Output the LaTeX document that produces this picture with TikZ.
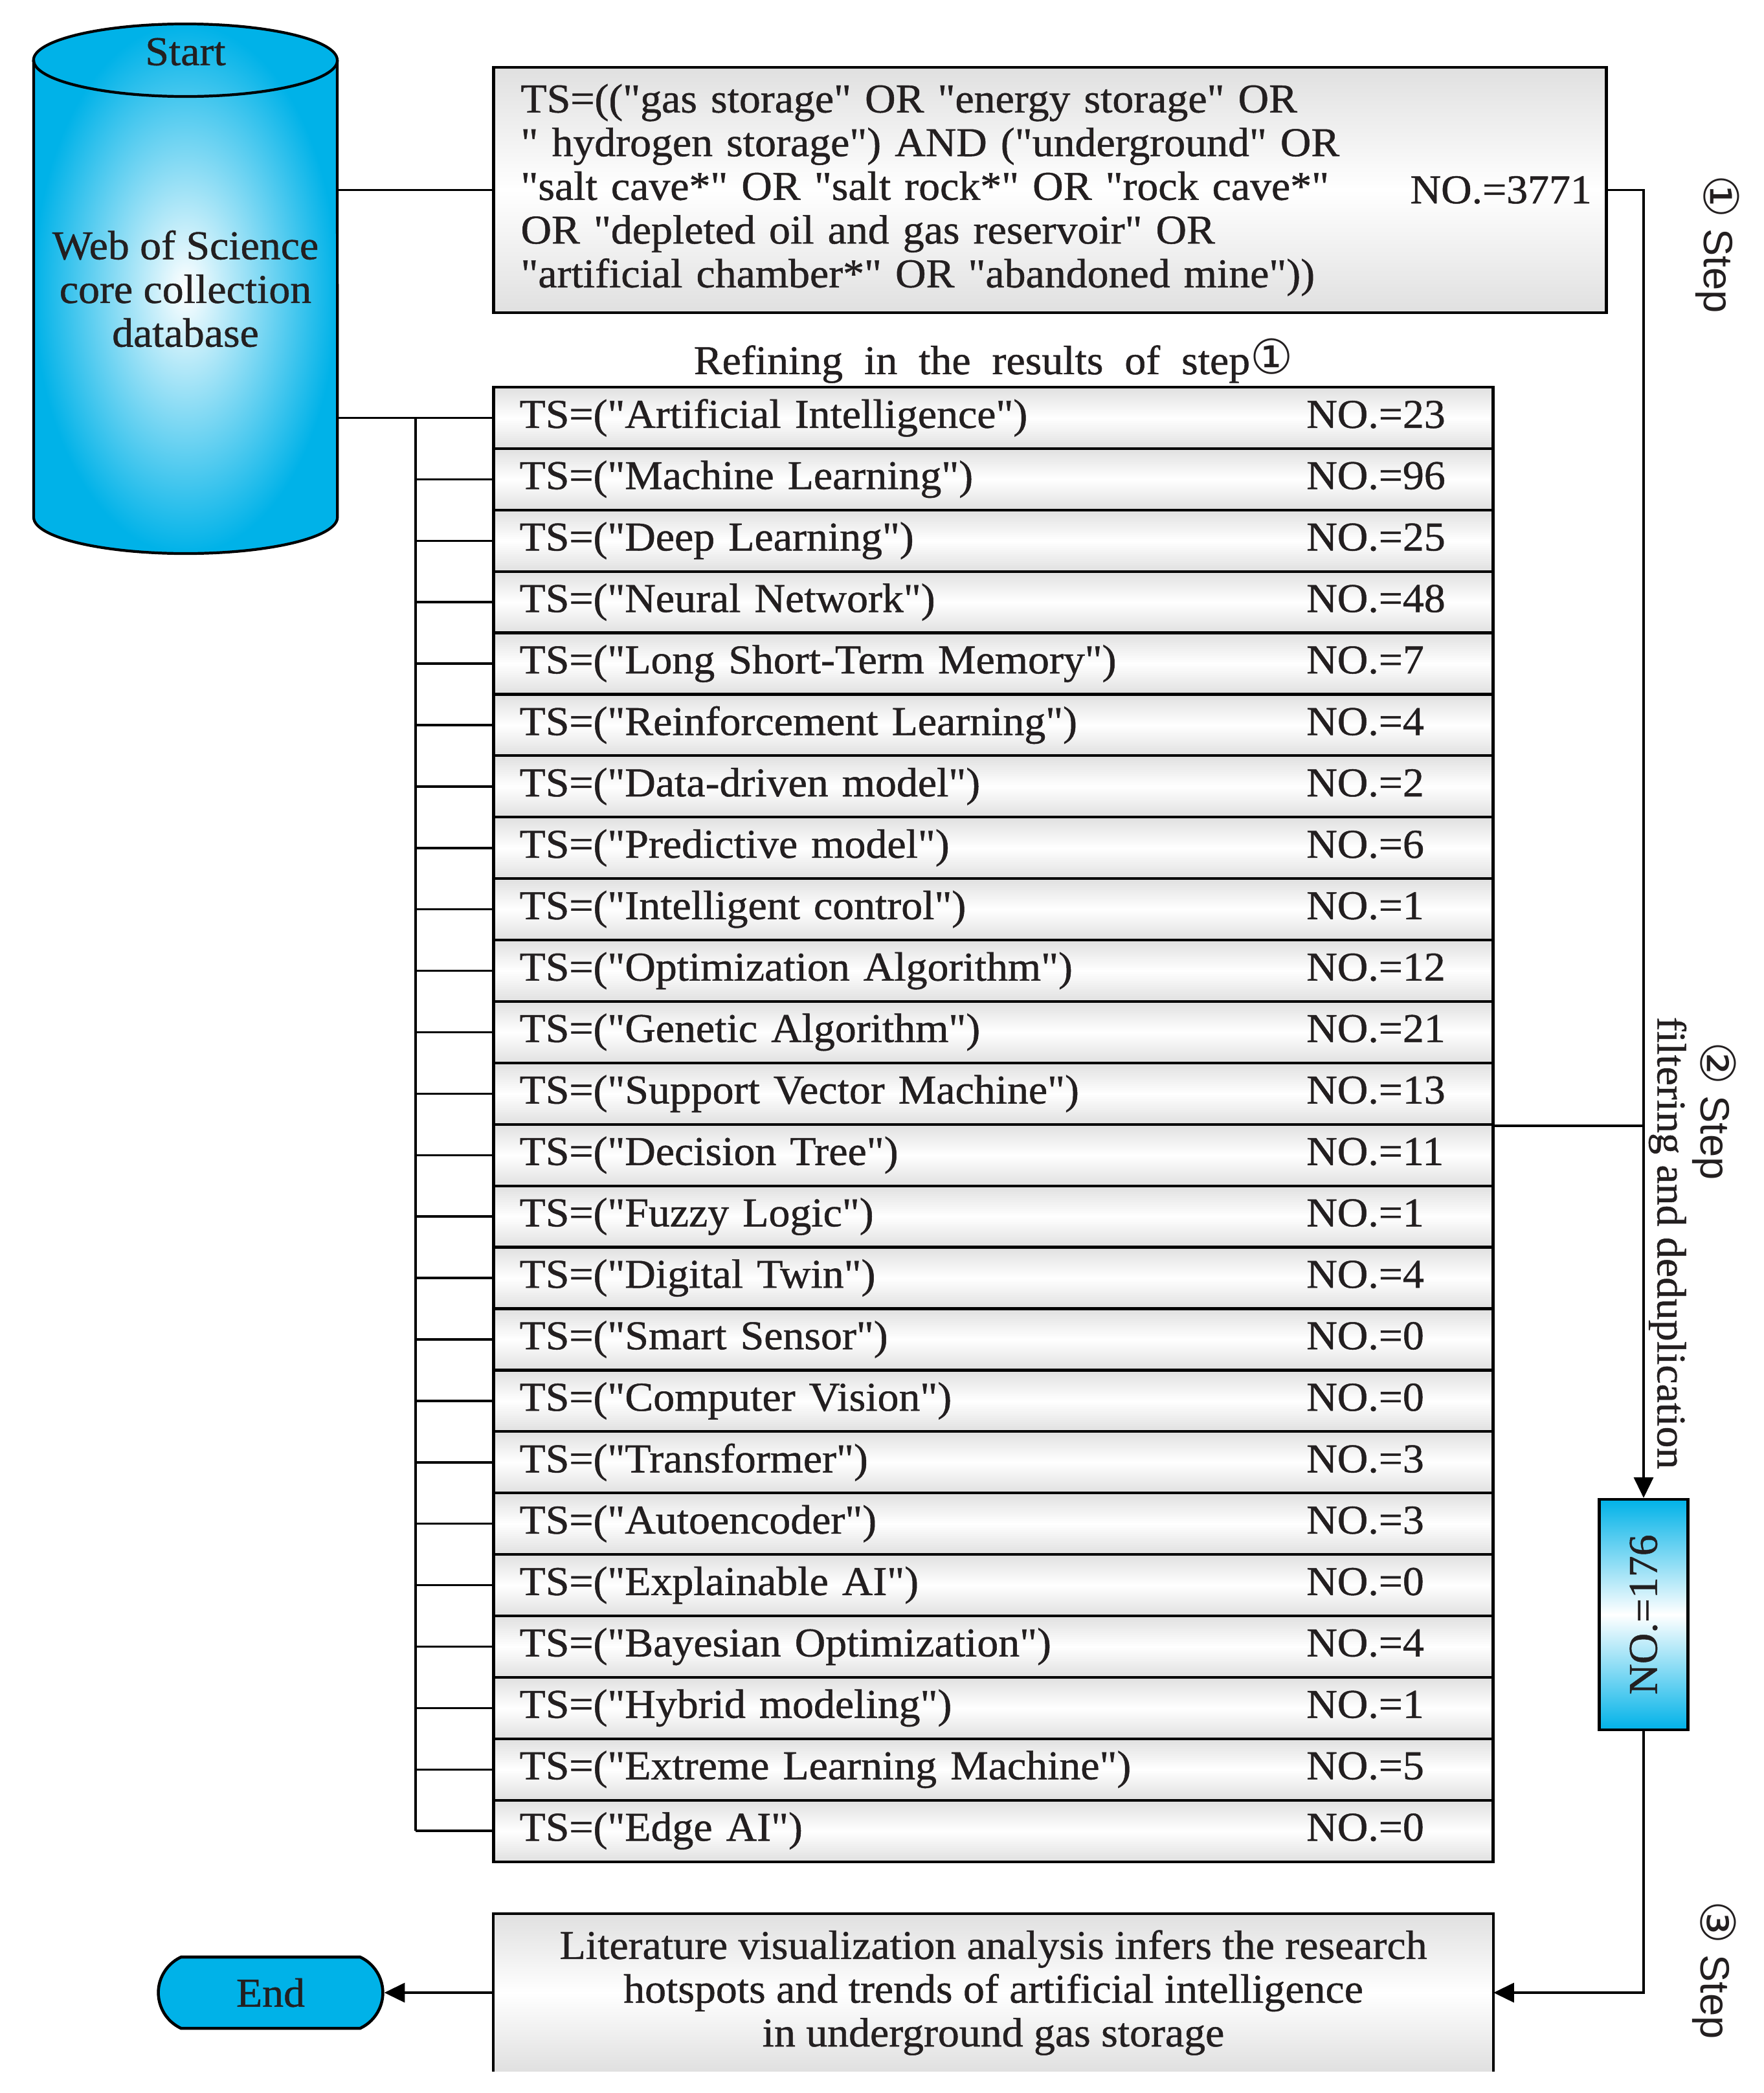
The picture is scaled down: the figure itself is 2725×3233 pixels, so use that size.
\documentclass[tikz,border=0pt]{standalone}
\usepackage{fontspec}
\setmainfont{Liberation Serif}[Ligatures=TeXOff,FakeStretch=1.04,FakeBold=0.8]
\setsansfont{Liberation Sans}
\newfontfamily\circfont{DejaVu Sans}
\usepackage{tikz}
\usetikzlibrary{arrows.meta,positioning,shapes.misc}
\definecolor{ink}{HTML}{231F20}
\definecolor{dbcyan}{HTML}{00B2E8}
\definecolor{rowgray}{HTML}{E0E0E0}
\newcommand{\circnum}[1]{{\circfont\fontsize{21}{21}\selectfont #1}}

\begin{document}
\begin{tikzpicture}[
  x=0.01cm,y=-0.01cm,
  font=\fontsize{18}{19.2}\selectfont,text=ink,
  conn/.style={line width=1pt},
  arr/.style={line width=1pt,-{Triangle[length=9pt,width=8.5pt]}},
  graybox/.style={draw,line width=1.2pt,top color=rowgray,bottom color=rowgray,middle color=white,inner sep=0pt},
  termrow/.style={graybox,minimum width=15.43cm,minimum height=0.949cm,text width=14.63cm,align=left,inner xsep=0.4cm},
  steplabel/.style={rotate=-90,inner sep=0pt}
]
\useasboundingbox (0,0) rectangle (2725,3233);
% database cylinder and query
\draw[line width=1.2pt,inner color=white,outer color=dbcyan] (52,93) -- (52,799)
  arc[start angle=180,end angle=360,x radius=2.345cm,y radius=0.56cm] -- (521,93)
  arc[start angle=0,end angle=180,x radius=2.345cm,y radius=0.56cm] -- cycle;
\draw[line width=1.2pt] (52,93) arc[start angle=180,end angle=360,x radius=2.345cm,y radius=0.56cm];
\node[minimum width=4.69cm,minimum height=8.18cm,inner sep=0pt,align=center] (wos) at (286.5,446) {Web of Science\\core collection\\database};
\node (start) at (286.5,80) {Start};
\node[graybox,minimum width=17.18cm,minimum height=3.79cm,text width=16.34cm,align=left] (query) at (1622,293.5)
  {TS=(("gas storage" OR "energy storage" OR\\" hydrogen storage") AND ("underground" OR\\"salt cave*" OR "salt rock*" OR "rock cave*"\\OR "depleted oil and gas reservoir" OR\\"artificial chamber*" OR "abandoned mine"))};
\node[anchor=east,inner sep=0pt] (qno) at ([xshift=-0.24cm]query.east) {NO.=3771};
% refining rows
\foreach \topic/\hits [count=\i] in {Artificial Intelligence/23,Machine Learning/96,Deep Learning/25,
  Neural Network/48,Long Short-Term Memory/7,Reinforcement Learning/4,Data-driven model/2,
  Predictive model/6,Intelligent control/1,Optimization Algorithm/12,Genetic Algorithm/21,
  Support Vector Machine/13,Decision Tree/11,Fuzzy Logic/1,Digital Twin/4,Smart Sensor/0,
  Computer Vision/0,Transformer/3,Autoencoder/3,Explainable AI/0,Bayesian Optimization/4,
  Hybrid modeling/1,Extreme Learning Machine/5,Edge AI/0}
  \node[termrow] (r\i) at (1534.5,{645.45+(\i-1)*94.9}) {\makebox[12.15cm][l]{TS=("\topic")}NO.=\hits};
\node[above=1pt of r1,inner sep=0pt] (refine) {Refining\ \ in\ \ the\ \ results\ \ of\ \ step\circnum{①}};
% result and conclusion
\node[draw,line width=1.2pt,minimum width=1.37cm,minimum height=3.56cm,
  top color=dbcyan,bottom color=dbcyan,middle color=white] (n176) at (2539,2494) {};
\node[rotate=90] (n176txt) at (n176) {NO.=176};
\node[top color=rowgray,bottom color=rowgray,middle color=white,minimum width=15.43cm,
  minimum height=2.42cm,align=center] (concl) at (1534.5,3078)
  {Literature visualization analysis infers the research\\hotspots and trends of artificial intelligence\\in underground gas storage};
\draw[line width=1.2pt] (concl.south west) -- (concl.north west) -- (concl.north east) -- (concl.south east);
\node[rounded rectangle,rounded rectangle arc length=130,draw,line width=1.3pt,fill=dbcyan,
  minimum width=3.70cm,minimum height=1.10cm] (endnode) at (418,3078) {End};
% step labels
\node[steplabel] (step1) at (2653,377) {\circnum{①} \textsf{Step}};
\node[steplabel] (step2) at (2648,1716) {\circnum{②} \textsf{Step}};
\node[steplabel] (filt) at (2576,1920) {filtering and deduplication};
\node[steplabel] (step3) at (2648,3043) {\circnum{③} \textsf{Step}};
% connectors
\coordinate (trunk) at (642,645.45);
\draw[conn] (wos.east |- query.west) -- (query.west);
\draw[conn] (wos.east |- r1.west) -- (r1.west);
\draw[conn] (trunk) -- (trunk |- r24.west);
\foreach \i in {2,...,24} \draw[conn] (trunk |- r\i.west) -- (r\i.west);
\draw[arr] (query.east) -- (query.east -| n176.north) -- (n176.north);
\draw[conn] (r12.south east) -- (r12.south east -| n176.north);
\draw[arr] (n176.south) |- (concl.east);
\draw[arr] (concl.west) -- (endnode.east);
\end{tikzpicture}
\end{document}
